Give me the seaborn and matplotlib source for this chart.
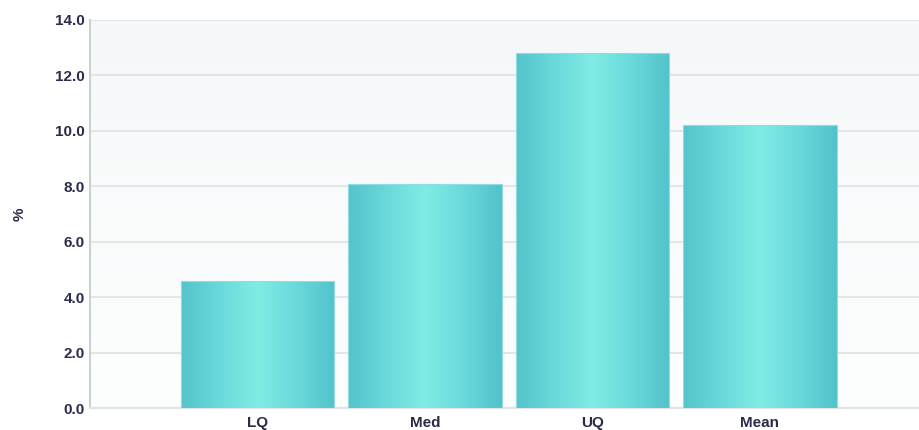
import numpy as np
import pandas as pd
import matplotlib
matplotlib.use("Agg")
import matplotlib.pyplot as plt
from matplotlib.colors import LinearSegmentedColormap
import seaborn as sns

categories = ["LQ", "Med", "UQ", "Mean"]
values = [4.6, 8.1, 12.8, 10.2]
yticks = [0, 2, 4, 6, 8, 10, 12, 14]

df = pd.DataFrame({"stat": categories, "pct": values})

sns.set_style("white")
plt.rcParams["font.family"] = ["Liberation Sans", "DejaVu Sans"]

fig = plt.figure(figsize=(9.2, 4.3), dpi=100)
ax = fig.add_axes([0.098, 0.051, 0.91, 0.9025])

sns.barplot(data=df, x="stat", y="pct", color="#62d3d6", width=0.915,
            saturation=1, ax=ax, zorder=3)

XMIN, XMAX = -1, 4.0

# plot-area background: faint grey at top fading to white
bg = np.linspace(0, 1, 256).reshape(-1, 1)
bg_cmap = LinearSegmentedColormap.from_list("bg", ["#fdfefe", "#f5f8f9"])
ax.imshow(bg, cmap=bg_cmap, aspect="auto", extent=[XMIN, XMAX, 0, 14],
          origin="lower", zorder=0)

# cylinder-like horizontal gradient in each bar
bar_cmap = LinearSegmentedColormap.from_list(
    "bar", ["#55c4cb", "#6ad9db", "#80ece4", "#6ad9db", "#52c3cb"])
grad = np.linspace(0, 1, 256).reshape(1, -1)
for p in ax.patches:
    x0, y0 = p.get_x(), p.get_y()
    w, h = p.get_width(), p.get_height()
    im = ax.imshow(grad, cmap=bar_cmap, aspect="auto",
                   extent=[x0, x0 + w, y0, y0 + h], zorder=4)
    im.set_clip_path(p)
    p.set_edgecolor("#8fdde0")
    p.set_linewidth(0.8)
    p.set_zorder(5)
    p.set_facecolor("none")

ax.set_xlim(XMIN, XMAX)
ax.set_ylim(0, 14)

ax.set_yticks(yticks)
ax.set_yticklabels([f"{t:.1f}" for t in yticks])
ax.yaxis.grid(True, color="#e2e6e6", linewidth=1.5, zorder=1)
ax.set_axisbelow(True)

ax.tick_params(axis="both", length=0, labelsize=11, colors="#2b2b4a")
ax.tick_params(axis="x", pad=6)
ax.tick_params(axis="y", pad=4)
for lab in ax.get_yticklabels() + ax.get_xticklabels():
    lab.set_fontweight("bold")

ax.set_xlabel("")
ax.set_ylabel("%", fontsize=11, color="#2b2b4a", fontweight="bold",
              labelpad=20)

for s in ["top", "right"]:
    ax.spines[s].set_visible(False)
ax.spines["left"].set_color("#c9d1d1")
ax.spines["left"].set_linewidth(1.5)
ax.spines["bottom"].set_color("#dfe3e3")
ax.spines["bottom"].set_linewidth(1.5)

fig.savefig("out.png", dpi=100)
